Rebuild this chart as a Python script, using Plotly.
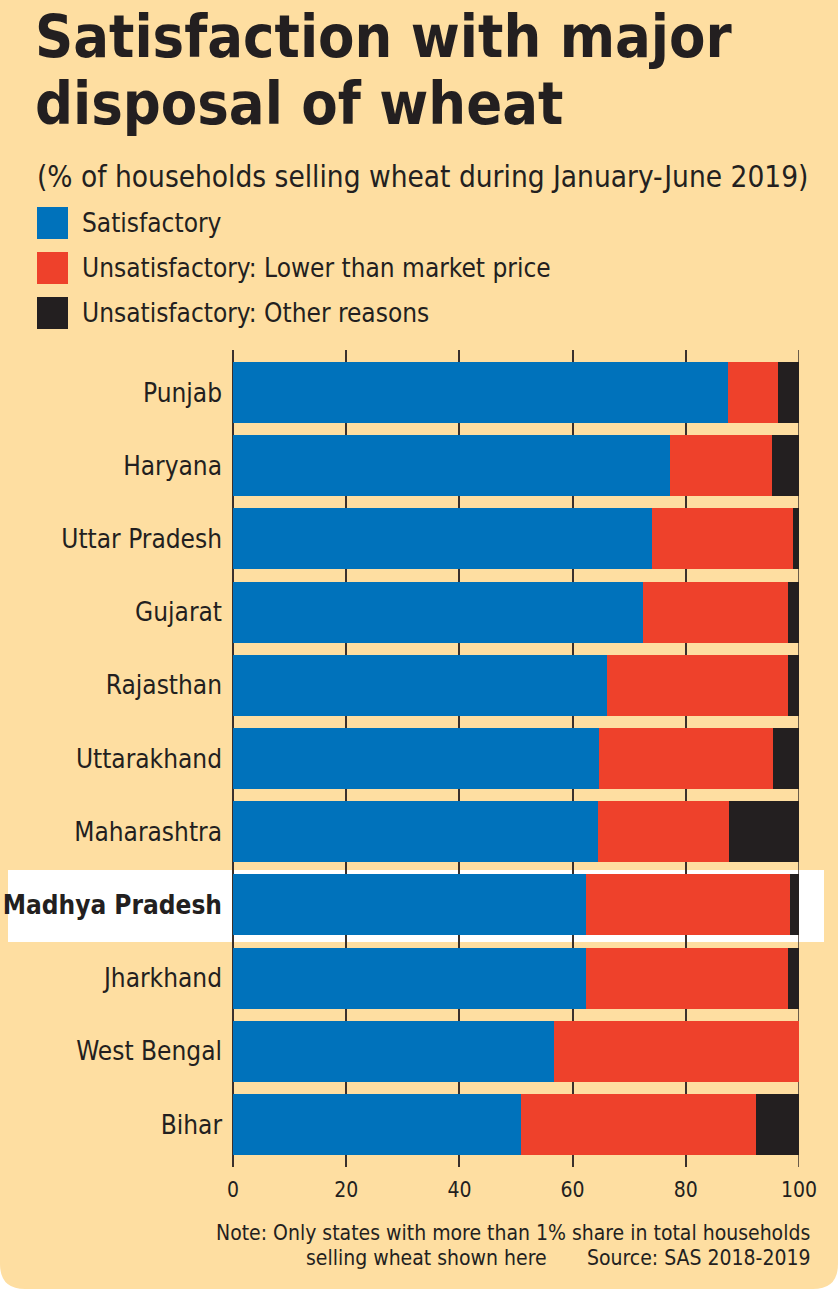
import plotly.graph_objects as go

states = ["Punjab", "Haryana", "Uttar Pradesh", "Gujarat", "Rajasthan", "Uttarakhand",
          "Maharashtra", "Madhya Pradesh", "Jharkhand", "West Bengal", "Bihar"]
satisfactory = [87.4, 77.2, 74.0, 72.4, 66.0, 64.7, 64.4, 62.3, 62.3, 56.8, 50.8]
lower_price = [8.9, 18.1, 24.9, 25.7, 32.1, 30.7, 23.2, 36.1, 35.7, 43.2, 41.6]
other_reasons = [3.7, 4.7, 1.1, 1.9, 1.9, 4.6, 12.4, 1.6, 2.0, 0.0, 7.6]
highlight = "Madhya Pradesh"
x_ticks = [0, 20, 40, 60, 80, 100]

series_names = ["Satisfactory", "Unsatisfactory: Lower than market price",
                "Unsatisfactory: Other reasons"]
colors = ["#0072BB", "#EE412B", "#231F20"]

W, H = 838, 1289
L, R, T, B = 233, 799, 350, 1167
BG = "#FEDEA1"
TXT = "#231F20"
GRID = "#3A302C"
BODY = "Noto Sans Condensed, DejaVu Sans Condensed, sans-serif"
TITLE = "DejaVu Sans Condensed, sans-serif"


def fx(px):
    return (px - L) / (R - L)


def fy(py):
    return (B - py) / (B - T)


fig = go.Figure()
for name, vals, col in zip(series_names, [satisfactory, lower_price, other_reasons], colors):
    fig.add_trace(go.Bar(y=states, x=vals, name=name, orientation="h",
                         marker=dict(color=col, line=dict(width=0)),
                         showlegend=False, hoverinfo="x+y"))

ticktext = [f"<b>{s}</b>" if s == highlight else s for s in states]

shapes = []
# rounded card background
bg_path = (f"M {fx(0)},{fy(0)} L {fx(W)},{fy(0)} L {fx(W)},{fy(H-25)} "
           f"Q {fx(W)},{fy(H)} {fx(W-25)},{fy(H)} L {fx(25)},{fy(H)} "
           f"Q {fx(0)},{fy(H)} {fx(0)},{fy(H-25)} Z")
shapes.append(dict(type="path", xref="paper", yref="paper", path=bg_path,
                   fillcolor=BG, line=dict(width=0), layer="below"))
# highlight band
shapes.append(dict(type="rect", xref="paper", yref="paper",
                   x0=fx(8), x1=fx(824), y0=fy(942), y1=fy(870),
                   fillcolor="white", line=dict(width=0), layer="below"))
# grid line at the right end of the scale
shapes.append(dict(type="line", xref="x", yref="paper", x0=x_ticks[-1], x1=x_ticks[-1],
                   y0=0, y1=1, line=dict(color=GRID, width=1.5), layer="below"))
# legend squares
leg_y = [223, 268, 313]
for col, yc in zip(colors, leg_y):
    shapes.append(dict(type="rect", xref="paper", yref="paper",
                       x0=fx(37), x1=fx(68), y0=fy(yc + 16), y1=fy(yc - 16),
                       fillcolor=col, line=dict(width=0)))

annotations = [
    dict(text="<b>Satisfaction with major</b>", x=fx(33), y=fy(37), xanchor="left",
         yanchor="middle", font=dict(family=TITLE, size=59, color=TXT)),
    dict(text="<b>disposal of wheat</b>", x=fx(33), y=fy(104), xanchor="left",
         yanchor="middle", font=dict(family=TITLE, size=59, color=TXT)),
    dict(text="(% of households selling wheat during January-June 2019)", x=fx(35), y=fy(177),
         xanchor="left", yanchor="middle", font=dict(family=BODY, size=29.5, color=TXT)),
]
for name, yc in zip(series_names, leg_y):
    annotations.append(dict(text=name, x=fx(80), y=fy(yc), xanchor="left", yanchor="middle",
                            font=dict(family=BODY, size=26, color=TXT)))
annotations += [
    dict(text="Note: Only states with more than 1% share in total households", x=fx(812),
         y=fy(1233), xanchor="right", yanchor="middle", font=dict(family=BODY, size=21, color=TXT)),
    dict(text="selling wheat shown here", x=fx(304), y=fy(1258), xanchor="left",
         yanchor="middle", font=dict(family=BODY, size=21, color=TXT)),
    dict(text="Source: SAS 2018-2019", x=fx(812), y=fy(1258), xanchor="right",
         yanchor="middle", font=dict(family=BODY, size=21, color=TXT)),
]
for a in annotations:
    a.update(xref="paper", yref="paper", showarrow=False)

fig.update_layout(
    width=W, height=H,
    margin=dict(l=L, r=W - R, t=T, b=H - B, pad=0, autoexpand=False),
    paper_bgcolor="white", plot_bgcolor="rgba(0,0,0,0)",
    barmode="stack", bargap=0.167,
    shapes=shapes, annotations=annotations,
    font=dict(family=BODY, color=TXT),
    xaxis=dict(range=[0, 100], tickvals=x_ticks, showgrid=True, gridcolor=GRID,
               gridwidth=1.5, zeroline=True, zerolinecolor=GRID, zerolinewidth=1.5,
               showline=False, ticks="", tickfont=dict(family=BODY, size=21, color=TXT),
               ticklabelstandoff=8, fixedrange=True, automargin=False),
    yaxis=dict(type="category", categoryorder="array", categoryarray=states,
               tickvals=states, ticktext=ticktext, range=[10.58, -0.58],
               showgrid=False, zeroline=False, showline=False, ticks="",
               tickfont=dict(family=BODY, size=26, color=TXT), ticklabelstandoff=10,
               fixedrange=True, automargin=False),
)

fig.write_html("out.html")
